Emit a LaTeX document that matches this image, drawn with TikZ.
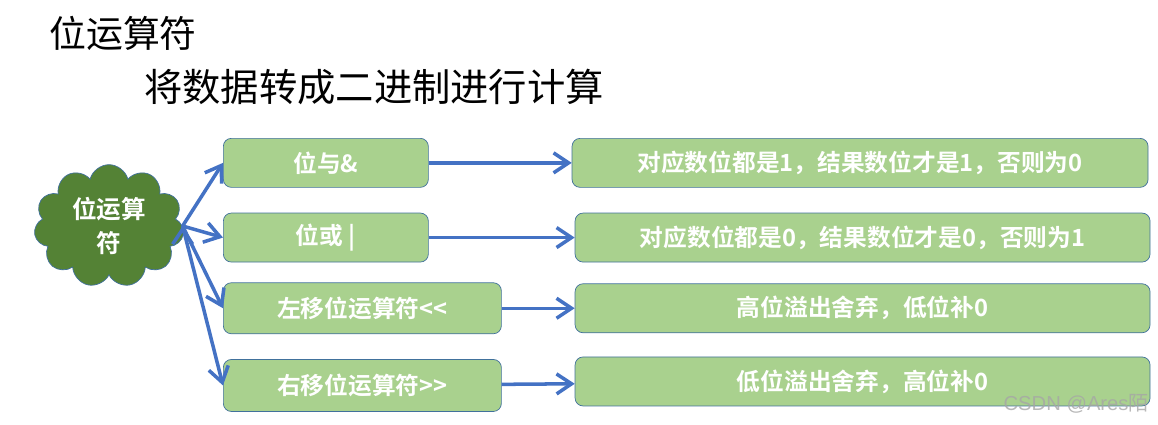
\documentclass[tikz,border=0pt]{standalone}
\usepackage{fontspec}
\setmainfont{Noto Sans CJK SC}[BoldFont={Noto Sans CJK SC Bold}]
\newfontfamily\wmfont{Liberation Sans}
\usetikzlibrary{positioning, arrows.meta, shapes.symbols}
\definecolor{boxgreen}{HTML}{A9D18E}
\definecolor{darkgreen}{HTML}{548235}
\definecolor{linkblue}{HTML}{4472C4}
\definecolor{rim}{HTML}{41719C}
\tikzset{
  opbox/.style={
    draw=rim, fill=boxgreen, rounded corners=0.16cm, text=white,
    minimum height=0.98cm, inner sep=0pt,
    font=\fontsize{13.5}{16}\selectfont\bfseries
  },
  opcloud/.style={
    cloud, cloud puffs=11, draw=rim, fill=darkgreen, text=white,
    minimum width=3.0cm, minimum height=2.3cm, inner sep=0pt,
    align=center, font=\fontsize{14}{19}\selectfont\bfseries
  },
  link/.style={
    draw=linkblue, line width=2pt,
    -{Straight Barb[length=3mm, width=4mm]}
  }
}

\begin{document}
\begin{tikzpicture}
      \useasboundingbox (0,0) rectangle (23.16,-8.48);

      \node[anchor=west, font=\fontsize{21}{25}\selectfont] (title) at (0.86,-0.66) {位运算符};
      \node[anchor=west, font=\fontsize{21.8}{25}\selectfont] (sub) at (2.76,-1.74) {将数据转成二进制进行计算};

      \node[opcloud] (op) at (2.18,-4.52) {位运算\\符};

      \node[opbox, minimum width=4.1cm, anchor=north west] (and) at (4.46,-2.76) {位与\&};
      \node[opbox, minimum width=4.1cm, below=0.5cm of and.south west, anchor=north west] (or) {位或 |};
      \node[opbox, minimum width=5.56cm, minimum height=1.02cm, below=0.4cm of or.south west, anchor=north west] (shl) {左移位运算符<{}<};
      \node[opbox, minimum width=5.56cm, minimum height=1.04cm, below=0.5cm of shl.south west, anchor=north west] (shr) {右移位运算符>{}>};

      \node[opbox, minimum width=11.52cm, right=2.86cm of and.east] (andr) {对应数位都是1，结果数位才是1，否则为0};
      \node[opbox, minimum width=11.5cm, right=2.92cm of or.east] (orr) {对应数位都是0，结果数位才是0，否则为1};
      \node[opbox, minimum width=11.5cm, right=1.46cm of shl.east] (shlr) {高位溢出舍弃，低位补0};
      \node[opbox, minimum width=11.5cm, right=1.46cm of shr.east, yshift=0.08cm] (shrr) {低位溢出舍弃，高位补0};

      \draw[link] (op.east) edge (and.west)
            (op.east) edge (or.west)
            (op.east) edge (shl.west)
            (op.east) edge (shr.west);

      \draw[link] (and) edge (andr)
            (or) edge (orr)
            (shl) edge (shlr)
            (shr) edge (shrr);

      \node[anchor=east, text=gray!70, opacity=0.8, font=\fontsize{11.5}{14}\selectfont] (mark) at (23.1,-8.08) {\wmfont CSDN @Ares{\rmfamily 陌}};
\end{tikzpicture}
\end{document}
